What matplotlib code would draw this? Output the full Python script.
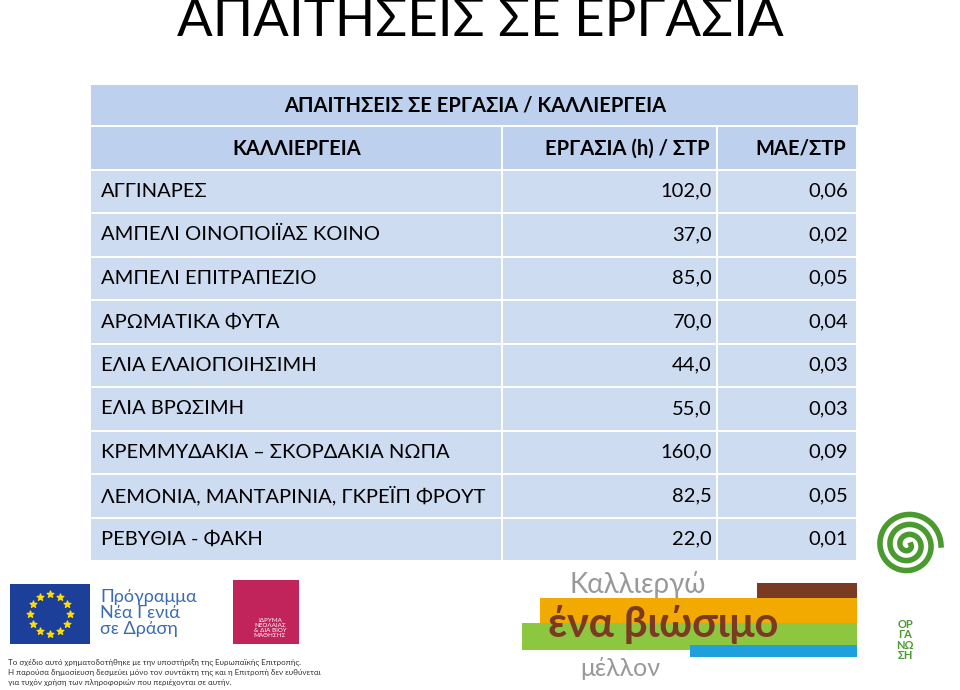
"""Table slide: labour requirements per crop."""

import matplotlib.pyplot as plt
import numpy as np
from matplotlib.patches import Rectangle

plt.rcParams["font.family"] = ["Lato", "DejaVu Sans"]

crops = [
    "ΑΓΓΙΝΑΡΕΣ",
    "ΑΜΠΕΛΙ ΟΙΝΟΠΟΙΪΑΣ ΚΟΙΝΟ",
    "ΑΜΠΕΛΙ ΕΠΙΤΡΑΠΕΖΙΟ",
    "ΑΡΩΜΑΤΙΚΑ ΦΥΤΑ",
    "ΕΛΙΑ ΕΛΑΙΟΠΟΙΗΣΙΜΗ",
    "ΕΛΙΑ ΒΡΩΣΙΜΗ",
    "ΚΡΕΜΜΥΔΑΚΙΑ – ΣΚΟΡΔΑΚΙΑ ΝΩΠΑ",
    "ΛΕΜΟΝΙΑ, ΜΑΝΤΑΡΙΝΙΑ, ΓΚΡΕΪΠ ΦΡΟΥΤ",
    "ΡΕΒΥΘΙΑ - ΦΑΚΗ",
]
hours = [102.0, 37.0, 85.0, 70.0, 44.0, 55.0, 160.0, 82.5, 22.0]
mae = [0.06, 0.02, 0.05, 0.04, 0.03, 0.03, 0.09, 0.05, 0.01]
headers = ["ΚΑΛΛΙΕΡΓΕΙΑ", "ΕΡΓΑΣΙΑ (h) / ΣΤΡ", "ΜΑΕ/ΣΤΡ"]


def gr(v, nd):
    return f"{v:.{nd}f}".replace(".", ",")


fig = plt.figure(figsize=(9.6, 6.9), dpi=100)
ax = fig.add_axes([0, 0, 1, 1])
ax.set_xlim(0, 960)
ax.set_ylim(690, 0)
ax.axis("off")

ax.text(480, 22, "ΑΠΑΙΤΗΣΕΙΣ ΣΕ ΕΡΓΑΣΙΑ", ha="center", va="center",
        fontsize=38, color="black")

x0, x1, x2, x3 = 91, 503, 718, 858
hdr_col = "#bdd0ee"
row_col = "#cedcf1"
gap = 2
fs = 14.5

# title row
ax.add_patch(Rectangle((x0, 85), x3 - x0, 42 - gap, color=hdr_col, lw=0))
ax.text(475, 106, "ΑΠΑΙΤΗΣΕΙΣ ΣΕ ΕΡΓΑΣΙΑ / ΚΑΛΛΙΕΡΓΕΙΑ", ha="center",
        va="center", fontsize=fs, weight="bold")

# header row
top = 127
h = 43.5
cols = [(x0, x1), (x1, x2), (x2, x3)]
for (a, b) in cols:
    ax.add_patch(Rectangle((a, top), b - a - gap, h - gap, color=hdr_col, lw=0))
ax.text(297, top + h / 2, headers[0], ha="center", va="center", fontsize=fs, weight="bold")
ax.text(x2 - 8, top + h / 2, headers[1], ha="right", va="center", fontsize=fs, weight="bold")
ax.text(x3 - 12, top + h / 2, headers[2], ha="right", va="center", fontsize=fs, weight="bold")

for i, (c, hv, m) in enumerate(zip(crops, hours, mae)):
    y = top + h * (i + 1)
    for (a, b) in cols:
        ax.add_patch(Rectangle((a, y), b - a - gap, h - gap, color=row_col, lw=0))
    yc = y + h / 2 - 1
    ax.text(x0 + 10, yc, c, ha="left", va="center", fontsize=fs)
    ax.text(x2 - 6, yc, gr(hv, 1), ha="right", va="center", fontsize=fs)
    ax.text(x3 - 10, yc, gr(m, 2), ha="right", va="center", fontsize=fs)

# logos (approximate)
ax.add_patch(Rectangle((10, 584), 80, 60, color="#1c3f9a", lw=0))
ang = np.linspace(0, 2 * np.pi, 13)[:-1]
ax.scatter(50 + 20 * np.cos(ang), 614 + 20 * np.sin(ang), marker="*", s=25,
           color="#ffdd00", zorder=3)
ax.text(100, 613, "Πρόγραμμα\nΝέα Γενιά\nσε Δράση", ha="left", va="center",
        fontsize=13, color="#3b6bb0", linespacing=1.0)
ax.add_patch(Rectangle((233, 580), 66, 64, color="#c0245a", lw=0))
ax.text(270, 628, "ΙΔΡΥΜΑ\nΝΕΟΛΑΙΑΣ\n& ΔΙΑ ΒΙΟΥ\nΜΑΘΗΣΗΣ", ha="center", va="center",
        fontsize=4.5, color="white", linespacing=1.0)

ax.add_patch(Rectangle((757, 583), 100, 30, color="#7b3a22", lw=0))
ax.add_patch(Rectangle((540, 598), 317, 30, color="#f2a900", lw=0))
ax.add_patch(Rectangle((522, 623), 335, 27, color="#8dc63f", lw=0))
ax.add_patch(Rectangle((690, 645), 167, 12, color="#1ea0dc", lw=0))
ax.text(570, 585, "Καλλιεργώ", ha="left", va="center", fontsize=20, color="#999999")
ax.text(548, 625, "ένα βιώσιμο", ha="left", va="center", fontsize=30, color="#7b3a22",
        weight="bold")
ax.text(580, 668, "μέλλον", ha="left", va="center", fontsize=18, color="#999999")

theta = np.linspace(0, 6 * np.pi, 300)
r = 3 + 10 * theta / (2 * np.pi)
ax.plot(908 + r * np.cos(theta), 545 + r * np.sin(theta), color="#4a9a2f", lw=4)
ax.text(905, 640, "ΟΡ\nΓΑ\nΝΩ\nΣΗ", ha="center", va="center", fontsize=8,
        color="#4a9a2f", weight="bold", linespacing=0.9)

ax.text(8, 672,
        "Το σχέδιο αυτό χρηματοδοτήθηκε με την υποστήριξη της Ευρωπαϊκής Επιτροπής.\n"
        "Η παρούσα δημοσίευση δεσμεύει μόνο τον συντάκτη της και η Επιτροπή δεν ευθύνεται\n"
        "για τυχόν χρήση των πληροφοριών που περιέχονται σε αυτήν.",
        ha="left", va="center", fontsize=5.8, color="#333333", linespacing=1.45)

fig.savefig("out.png", dpi=100)
